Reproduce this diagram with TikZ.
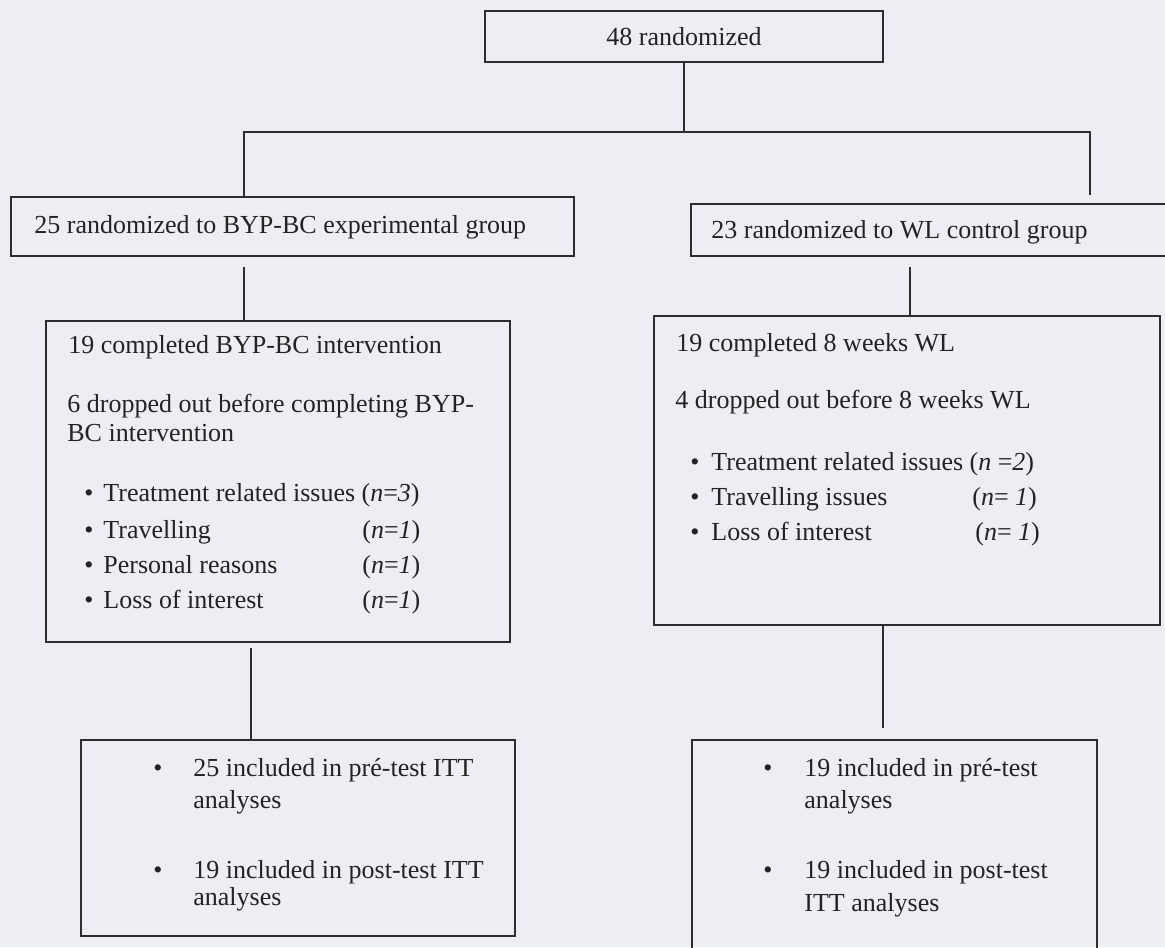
\documentclass[tikz,border=0pt]{standalone}
\usepackage{fontspec}
\setmainfont{Liberation Serif}
\definecolor{bgc}{RGB}{237,238,243}
\definecolor{lnc}{RGB}{45,45,45}
\definecolor{txc}{RGB}{35,35,35}
\tikzset{
	x=0.5pt, y=-0.5pt,
	every node/.style={font=\fontsize{13}{15}\selectfont, text=txc},
	box/.style={draw=lnc, line width=1pt, inner sep=0pt},
	sz/.style 2 args={minimum width=#1*0.5pt, minimum height=#2*0.5pt},
	txt/.style={anchor=base west, inner sep=0pt},
	link/.style={draw=lnc, line width=1pt},
}

\begin{document}
\begin{tikzpicture}
	\useasboundingbox (0,0) rectangle (1165,947);
	\clip (0,0) rectangle (1165,947);
	\fill[bgc] (0,0) rectangle (1165,947);

	% boxes
	\node[box, sz={398}{51}] (top) at (684,36.5) {48 randomized};
	\node[box, sz={563}{59}] (grpA) at (292.5,226.5) {};
	\node[box, sz={481}{52}] (grpB) at (931.5,230) {};
	\node[box, sz={464}{321}] (midA) at (278,481.5) {};
	\node[box, sz={506}{309}] (midB) at (907,470.5) {};
	\node[box, sz={434}{196}] (botA) at (298,838) {};
	\node[box, sz={405}{225}] (botB) at (894.5,852.5) {};

	% texts
	\node[txt] (tA) at (34,233) {25 randomized to BYP-BC experimental group};
	\node[txt] (tB) at (711,238) {23 randomized to WL control group};

	\node[txt] (mA1) at (68,353) {19 completed BYP-BC intervention};
	\node[txt] (mA2) at (67,412) {6 dropped out before completing BYP-};
	\node[txt] (mA3) at (67,441) {BC intervention};
	\node[txt] (bA1) at (84,501) {\textbullet};
	\node[txt] (rA1) at (103,501) {Treatment related issues (\textit{n}=\textit{3})};
	\foreach \y/\t in {538/Travelling, 573/Personal reasons, 608/Loss of interest} {
		\node[txt] (bA\y) at (84,\y) {\textbullet};
		\node[txt] (rA\y) at (103,\y) {\t};
		\node[txt] (nA\y) at (362,\y) {(\textit{n}=\textit{1})};
	}

	\node[txt] (mB1) at (676,351) {19 completed 8 weeks WL};
	\node[txt] (mB2) at (675,408) {4 dropped out before 8 weeks WL};
	\node[txt] (bB1) at (690,470) {\textbullet};
	\node[txt] (rB1) at (711,470) {Treatment related issues (\textit{n} =\textit{2})};
	\node[txt] (bB2) at (690,505) {\textbullet};
	\node[txt] (rB2) at (711,505) {Travelling issues};
	\node[txt] (nB2) at (972,505) {(\textit{n}= \textit{1})};
	\node[txt] (bB3) at (690,540) {\textbullet};
	\node[txt] (rB3) at (711,540) {Loss of interest};
	\node[txt] (nB3) at (975,540) {(\textit{n}= \textit{1})};

	\node[txt] (fA1) at (153,776) {\textbullet};
	\node[txt] (gA1) at (193,776) {25 included in pré-test ITT};
	\node[txt] (gA2) at (193,808) {analyses};
	\node[txt] (fA2) at (153,878) {\textbullet};
	\node[txt] (gA3) at (193,878) {19 included in post-test ITT};
	\node[txt] (gA4) at (193,905) {analyses};

	\node[txt] (fB1) at (763,776) {\textbullet};
	\node[txt] (gB1) at (804,776) {19 included in pré-test};
	\node[txt] (gB2) at (804,808) {analyses};
	\node[txt] (fB2) at (763,878) {\textbullet};
	\node[txt] (gB3) at (804,878) {19 included in post-test};
	\node[txt] (gB4) at (804,911) {ITT analyses};

	% connectors
	\coordinate (split) at (684,132);
	\coordinate (jA) at (244,132);
	\coordinate (jB) at (1090,195);
	\coordinate (gA) at (244,267);
	\coordinate (gB) at (910,267);
	\coordinate (hA) at (251,648);
	\coordinate (hB) at (883,728);

	\draw[link] (top.south) -- (split);
	\draw[link] (grpA.north -| jA) |- (split) -| (jB);
	\draw[link] (gA) -- (midA.north -| gA);
	\draw[link] (gB) -- (midB.north -| gB);
	\draw[link] (hA) -- (botA.north -| hA);
	\draw[link] (midB.south -| hB) -- (hB);
\end{tikzpicture}
\end{document}
